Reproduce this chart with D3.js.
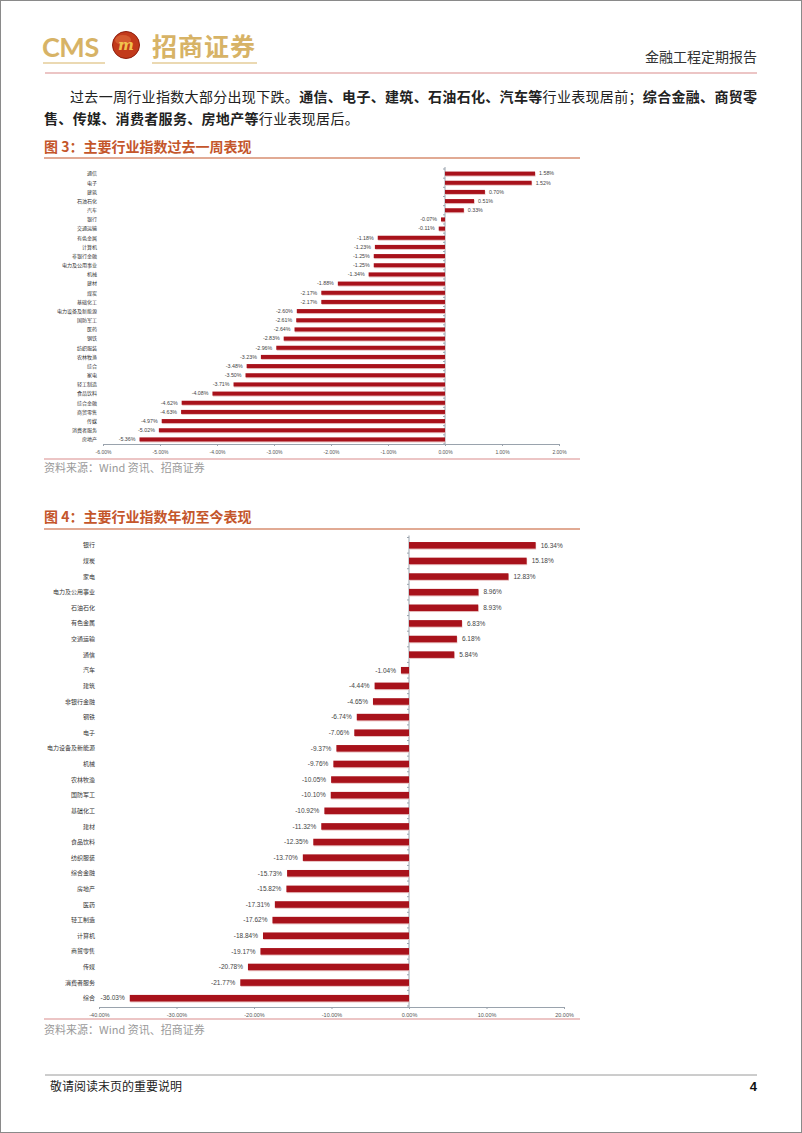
<!DOCTYPE html>
<html><head><meta charset="utf-8">
<script src="https://cdn.jsdelivr.net/npm/d3@7/dist/d3.min.js"></script>
<style>
html,body{margin:0;padding:0;background:#fff;}
svg{display:block;font-family:"Noto Sans CJK SC","Noto Sans",sans-serif;}
</style></head>
<body>
<script>
// ---- Data ----
const weekCategories = ["通信","电子","建筑","石油石化","汽车","银行","交通运输","有色金属","计算机","非银行金融","电力及公用事业","机械","建材","煤炭","基础化工","电力设备及新能源","国防军工","医药","钢铁","纺织服装","农林牧渔","综合","家电","轻工制造","食品饮料","综合金融","商贸零售","传媒","消费者服务","房地产"];
const weekValues = [1.58,1.52,0.70,0.51,0.33,-0.07,-0.11,-1.18,-1.23,-1.25,-1.25,-1.34,-1.88,-2.17,-2.17,-2.60,-2.61,-2.64,-2.83,-2.96,-3.23,-3.48,-3.50,-3.71,-4.08,-4.62,-4.63,-4.97,-5.02,-5.36];
const weekTicks = [-6,-5,-4,-3,-2,-1,0,1,2];

const ytdCategories = ["银行","煤炭","家电","电力及公用事业","石油石化","有色金属","交通运输","通信","汽车","建筑","非银行金融","钢铁","电子","电力设备及新能源","机械","农林牧渔","国防军工","基础化工","建材","食品饮料","纺织服装","综合金融","房地产","医药","轻工制造","计算机","商贸零售","传媒","消费者服务","综合"];
const ytdValues = [16.34,15.18,12.83,8.96,8.93,6.83,6.18,5.84,-1.04,-4.44,-4.65,-6.74,-7.06,-9.37,-9.76,-10.05,-10.10,-10.92,-11.32,-12.35,-13.70,-15.73,-15.82,-17.31,-17.62,-18.84,-19.17,-20.78,-21.77,-36.03];
const ytdTicks = [-40,-30,-20,-10,0,10,20];

const W = 802, H = 1133;
const loc = d3.formatLocale({decimal:".",thousands:",",grouping:[3],currency:["",""],minus:"-"});
const pct = d => loc.format(".2f")(d) + "%";

const svg = d3.select("body").append("svg").attr("width", W).attr("height", H);
svg.append("rect").attr("x",0.5).attr("y",0.5).attr("width",W-1).attr("height",H-1)
  .attr("fill","#fff").attr("stroke","#8a8a8a");

const gold = "#D7B366", barColor = "#A8121B", titleColor = "#C4562B";

// ---- Header ----
svg.append("text").attr("x",42).attr("y",57).attr("font-family","Lato, 'Open Sans', sans-serif")
  .attr("font-size",27).attr("font-weight",700).attr("fill",gold).attr("letter-spacing",-0.5).text("CMS");
const lg = svg.append("g").attr("transform","translate(126,45)");
lg.append("circle").attr("r",13.5).attr("fill","#C23A1B");
lg.append("circle").attr("r",13.5).attr("fill","none").attr("stroke","#8E1E0E").attr("stroke-width",1);
lg.append("ellipse").attr("cx",-3).attr("cy",-5).attr("rx",8).attr("ry",5).attr("fill","#E0703E").attr("opacity",0.6);
lg.append("text").attr("x",0).attr("y",5).attr("text-anchor","middle").attr("font-size",15).attr("font-weight",700)
  .attr("font-style","italic").attr("fill","#F1C24E").attr("font-family","DejaVu Serif, serif").text("m");
svg.append("text").attr("x",152).attr("y",56).attr("font-size",25).attr("font-weight",700).attr("fill",gold)
  .attr("letter-spacing",1).text("招商证券");
svg.append("line").attr("x1",43).attr("x2",105).attr("y1",63).attr("y2",63).attr("stroke",gold).attr("stroke-width",1.2);
svg.append("line").attr("x1",152).attr("x2",257).attr("y1",63).attr("y2",63).attr("stroke",gold).attr("stroke-width",1.2);
svg.append("text").attr("x",757).attr("y",62).attr("text-anchor","end").attr("font-size",14).attr("fill","#333").text("金融工程定期报告");
svg.append("line").attr("x1",45).attr("x2",757).attr("y1",73).attr("y2",73).attr("stroke","#D98B8B").attr("stroke-width",1);

// ---- Paragraph ----
function richLine(x, y, parts, ls){
  const t = svg.append("text").attr("x",x).attr("y",y).attr("font-size",14).attr("fill","#222").attr("letter-spacing",ls);
  parts.forEach(p=>t.append("tspan").attr("font-weight",p[1]?700:400).text(p[0]));
}
richLine(70,102,[["过去一周行业指数大部分出现下跌。",0],["通信、电子、建筑、石油石化、汽车等",1],["行业表现居前；",0],["综合金融、商贸零",1]],0.32);
richLine(44,124,[["售、传媒、消费者服务、房地产等",1],["行业表现居后。",0]],0.32);

// ---- Chart helper ----
function chart(o){
  svg.append("text").attr("x",44).attr("y",o.titleY).attr("font-size",14).attr("font-weight",700)
    .attr("fill",titleColor).text(o.title);
  svg.append("line").attr("x1",44).attr("x2",580).attr("y1",o.titleLineY).attr("y2",o.titleLineY)
    .attr("stroke",titleColor).attr("stroke-width",1.2);

  const x = d3.scaleLinear().domain(o.domain).range(o.xRange);
  const y = d3.scaleBand().domain(o.cats).range(o.yRange).paddingInner(o.pad).paddingOuter(o.pad/2);
  const g = svg.append("g");

  // x axis
  const ax = g.append("g").attr("transform",`translate(0,${o.axisY})`)
    .call(d3.axisBottom(x).tickValues(o.ticks).tickSize(2).tickFormat(pct));
  ax.select(".domain").attr("stroke","#9aa3ad");
  ax.selectAll(".tick line").attr("stroke","#9aa3ad");
  ax.selectAll(".tick text").attr("font-size",o.tickFs).attr("fill","#555").attr("dy","0.9em")
    .attr("font-family","'Liberation Sans', Arial, sans-serif");

  // zero line with minor ticks
  const x0 = x(0);
  g.append("line").attr("x1",x0).attr("x2",x0).attr("y1",o.yRange[0]-2).attr("y2",o.axisY)
    .attr("stroke","#9aa3ad").attr("stroke-width",1);
  const step = y.step();
  d3.range(o.cats.length+1).forEach(i=>{
    const yy = o.yRange[0] + i*step;
    g.append("line").attr("x1",x0-2).attr("x2",x0).attr("y1",yy).attr("y2",yy).attr("stroke","#9aa3ad");
  });

  // bars
  const data = o.cats.map((c,i)=>({c, v:o.vals[i]}));
  g.selectAll(".shadow").data(data).join("rect")
    .attr("x",d=>Math.min(x(d.v),x0)+0.5).attr("y",d=>y(d.c)+1)
    .attr("width",d=>Math.abs(x(d.v)-x0)).attr("height",y.bandwidth())
    .attr("fill","#E9C2C2");
  g.selectAll(".bar").data(data).join("rect")
    .attr("x",d=>Math.min(x(d.v),x0)).attr("y",d=>y(d.c))
    .attr("width",d=>Math.abs(x(d.v)-x0)).attr("height",y.bandwidth())
    .attr("fill",barColor);

  // value labels
  g.selectAll(".val").data(data).join("text")
    .attr("x",d=>d.v>=0 ? x(d.v)+o.lblGap : x(d.v)-o.lblGap)
    .attr("y",d=>y(d.c)+y.bandwidth()/2).attr("dy","0.35em")
    .attr("text-anchor",d=>d.v>=0?"start":"end")
    .attr("font-size",o.valFs).attr("fill","#444").attr("font-family","'Liberation Sans', Arial, sans-serif")
    .text(d=>pct(d.v));

  // category labels
  g.selectAll(".cat").data(data).join("text")
    .attr("x",o.catX).attr("y",d=>y(d.c)+y.bandwidth()/2).attr("dy","0.35em")
    .attr("text-anchor","end").attr("font-size",o.catFs).attr("fill","#333").text(d=>d.c);

  // source
  svg.append("line").attr("x1",44).attr("x2",580).attr("y1",o.srcLineY).attr("y2",o.srcLineY)
    .attr("stroke","#D98B8B").attr("stroke-width",1.2);
  svg.append("text").attr("x",44).attr("y",o.srcY).attr("font-size",11).attr("fill","#9a9a9a").text("资料来源：Wind 资讯、招商证券");
}

chart({title:"图 3：主要行业指数过去一周表现", titleY:152, titleLineY:158,
  cats:weekCategories, vals:weekValues, ticks:weekTicks, domain:[-6,2], xRange:[103,559],
  yRange:[169,444], pad:0.56, axisY:444, tickFs:5, valFs:5.3, catFs:5, catX:97, lblGap:4,
  srcLineY:459, srcY:472});

chart({title:"图 4：主要行业指数年初至今表现", titleY:522, titleLineY:529,
  cats:ytdCategories, vals:ytdValues, ticks:ytdTicks, domain:[-40,20], xRange:[99,564],
  yRange:[537.5,1006], pad:0.58, axisY:1007, tickFs:5.5, valFs:6.5, catFs:6, catX:95, lblGap:5,
  srcLineY:1019, srcY:1034});

// ---- Footer ----
svg.append("line").attr("x1",45).attr("x2",757).attr("y1",1075).attr("y2",1075).attr("stroke","#9a9a9a").attr("stroke-width",1);
svg.append("text").attr("x",50).attr("y",1091).attr("font-size",12).attr("fill","#222").text("敬请阅读末页的重要说明");
svg.append("text").attr("x",757).attr("y",1091).attr("text-anchor","end").attr("font-size",13).attr("font-weight",700)
  .attr("fill","#111").attr("font-family","'Liberation Sans', Arial, sans-serif").text("4");
</script>
</body></html>
